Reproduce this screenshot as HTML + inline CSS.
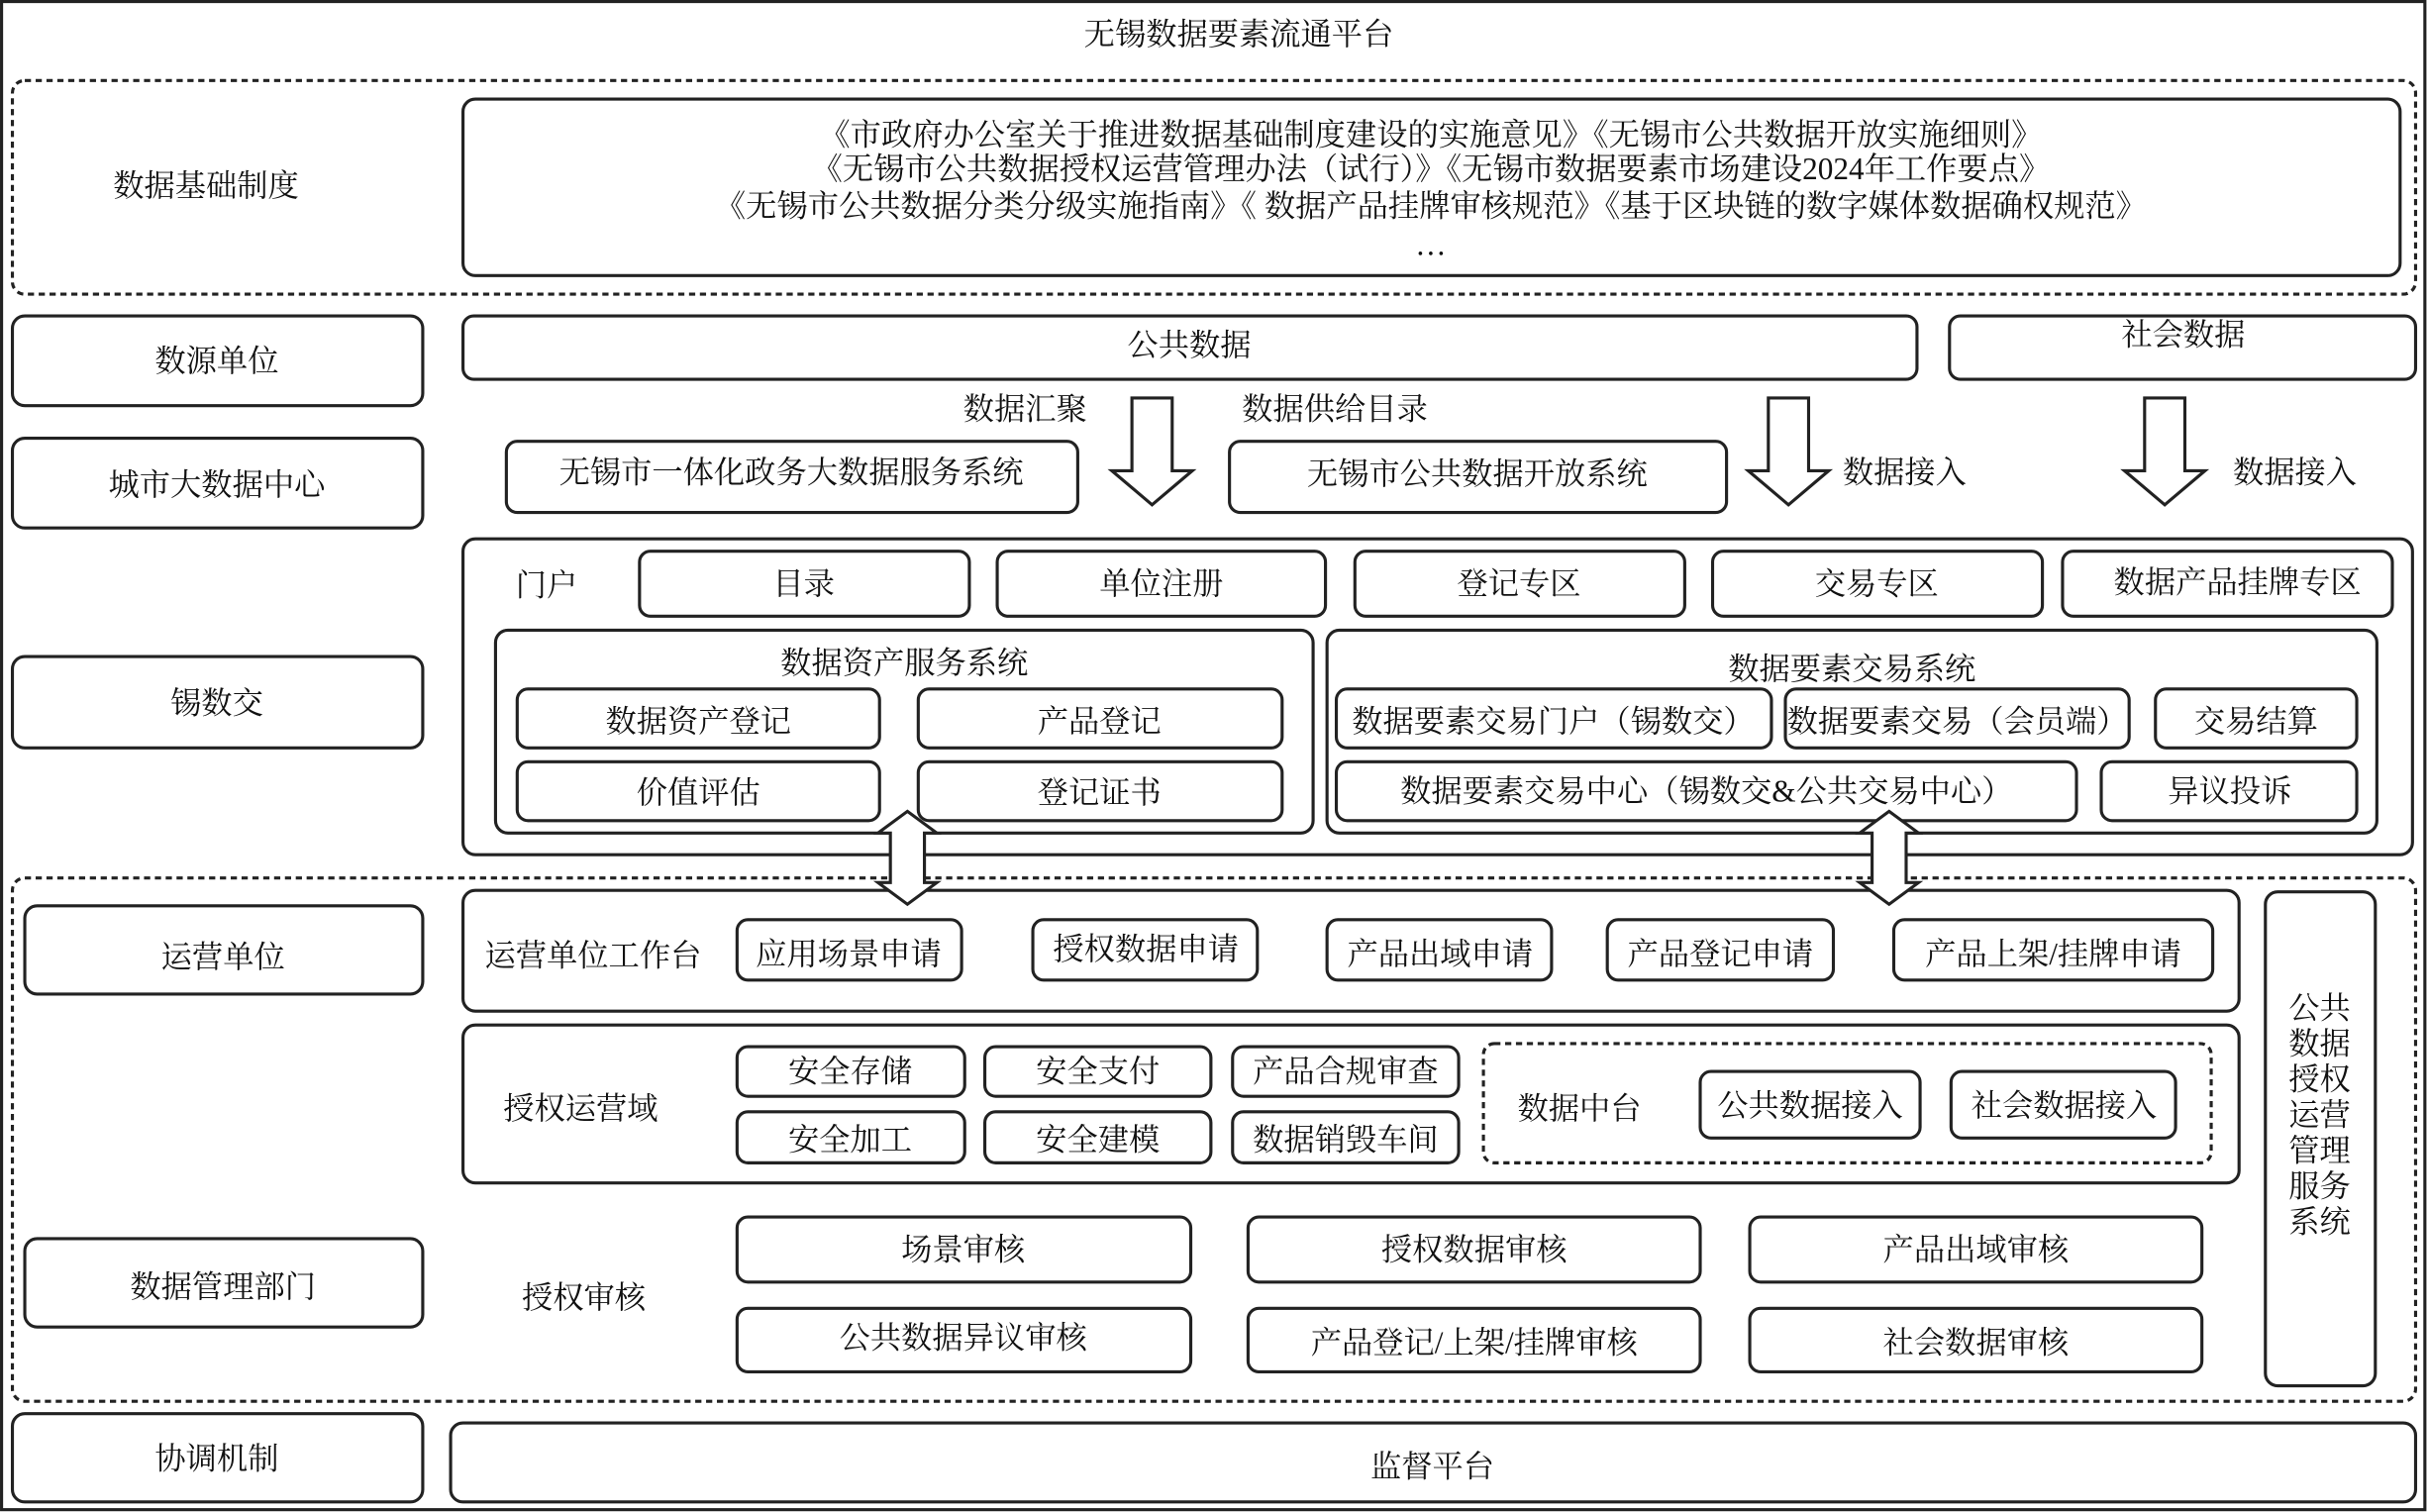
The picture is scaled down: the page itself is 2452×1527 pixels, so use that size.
<!DOCTYPE html>
<html><head><meta charset="utf-8"><style>html,body{margin:0;padding:0;background:#fff}svg{display:block}</style></head><body>
<svg xmlns="http://www.w3.org/2000/svg" width="2452" height="1527" viewBox="0 0 1568 976.5">
<g font-family="'Liberation Serif','Noto Serif CJK SC',serif" font-size="20" fill="#111" text-anchor="middle" dominant-baseline="central">
<rect x="1" y="1" width="1565" height="974" fill="#fff" stroke="#222" stroke-width="2"/>
<text x="800" y="22">无锡数据要素流通平台</text>
<g fill="none" stroke="#222" stroke-width="2">
<rect x="8" y="52" width="1552" height="138" rx="8" stroke-dasharray="4 3"/>
<rect x="8" y="567" width="1552" height="338" rx="8" stroke-dasharray="4 3"/>
<rect x="299" y="64" width="1251" height="114" rx="8"/>
<rect x="8" y="204" width="265" height="58" rx="8"/>
<rect x="8" y="283" width="265" height="58" rx="8"/>
<rect x="8" y="424" width="265" height="59" rx="8"/>
<rect x="16" y="585" width="257" height="57" rx="8"/>
<rect x="16" y="800" width="257" height="57" rx="8"/>
<rect x="8" y="913" width="265" height="57" rx="8"/>
<rect x="299" y="204" width="939" height="41" rx="7"/>
<rect x="1259" y="204" width="301" height="41" rx="7"/>
<rect x="327" y="285" width="369" height="46" rx="7"/>
<rect x="794" y="285" width="321" height="46" rx="7"/>
<rect x="299" y="348" width="1259" height="204" rx="8"/>
<rect x="413" y="356" width="213" height="42" rx="7"/>
<rect x="644" y="356" width="212" height="42" rx="7"/>
<rect x="875" y="356" width="213" height="42" rx="7"/>
<rect x="1106" y="356" width="213" height="42" rx="7"/>
<rect x="1332" y="356" width="213" height="42" rx="7"/>
<rect x="320" y="407" width="528" height="131" rx="8"/>
<rect x="334" y="445" width="234" height="38" rx="7"/>
<rect x="593" y="445" width="235" height="38" rx="7"/>
<rect x="334" y="492" width="234" height="38" rx="7"/>
<rect x="593" y="492" width="235" height="38" rx="7"/>
<rect x="857" y="407" width="678" height="131" rx="8"/>
<rect x="863" y="445" width="281" height="38" rx="7"/>
<rect x="1153" y="445" width="222" height="38" rx="7"/>
<rect x="1392" y="445" width="130" height="38" rx="7"/>
<rect x="863" y="492" width="478" height="38" rx="7"/>
<rect x="1357" y="492" width="165" height="38" rx="7"/>
<rect x="299" y="575" width="1147" height="78" rx="8"/>
<rect x="476" y="594" width="145" height="39" rx="7"/>
<rect x="667" y="594" width="145" height="39" rx="7"/>
<rect x="857" y="594" width="145" height="39" rx="7"/>
<rect x="1038" y="594" width="146" height="39" rx="7"/>
<rect x="1223" y="594" width="206" height="39" rx="7"/>
<rect x="299" y="662" width="1147" height="102" rx="8"/>
<rect x="476" y="676" width="147" height="32" rx="7"/>
<rect x="636" y="676" width="146" height="32" rx="7"/>
<rect x="796" y="676" width="146" height="32" rx="7"/>
<rect x="476" y="718" width="147" height="33" rx="7"/>
<rect x="636" y="718" width="146" height="33" rx="7"/>
<rect x="796" y="718" width="146" height="33" rx="7"/>
<rect x="958" y="674" width="470" height="77" rx="7" stroke-dasharray="4 3"/>
<rect x="1098" y="692" width="142" height="43" rx="7"/>
<rect x="1260" y="692" width="145" height="43" rx="7"/>
<rect x="476" y="786" width="293" height="42" rx="7"/>
<rect x="806" y="786" width="292" height="42" rx="7"/>
<rect x="1130" y="786" width="292" height="42" rx="7"/>
<rect x="476" y="845" width="293" height="41" rx="7"/>
<rect x="806" y="845" width="292" height="41" rx="7"/>
<rect x="1130" y="845" width="292" height="41" rx="7"/>
<rect x="1463" y="576" width="71" height="319" rx="8"/>
<rect x="291" y="919" width="1269" height="51" rx="8"/>
</g>
<g fill="#fff" stroke="#222" stroke-width="2">
<polygon points="731,257 757,257 757,304 770,304 744,326 718,304 731,304"/>
<polygon points="1142,257 1168,257 1168,304 1181,304 1155,326 1129,304 1142,304"/>
<polygon points="1385,257 1411,257 1411,304 1424,304 1398,326 1372,304 1385,304"/>
<polygon points="586,524 605,538 597,538 597,570 605,570 586,584 567,570 575,570 575,538 567,538"/>
<polygon points="1220,524 1239,538 1231,538 1231,570 1239,570 1220,584 1201,570 1209,570 1209,538 1201,538"/>
</g>
<text x="133" y="120">数据基础制度</text>
<text x="924" y="87">《市政府办公室关于推进数据基础制度建设的实施意见》《无锡市公共数据开放实施细则》</text>
<text x="924" y="109">《无锡市公共数据授权运营管理办法（试行）》《无锡市数据要素市场建设2024年工作要点》</text>
<text x="924" y="133">《无锡市公共数据分类分级实施指南》《 数据产品挂牌审核规范》《基于区块链的数字媒体数据确权规范》</text>
<text x="924" y="158">…</text>
<text x="140" y="233">数源单位</text>
<text x="140" y="313">城市大数据中心</text>
<text x="140" y="454">锡数交</text>
<text x="144" y="618">运营单位</text>
<text x="144" y="831">数据管理部门</text>
<text x="140" y="942">协调机制</text>
<text x="768" y="223">公共数据</text>
<text x="1410" y="216">社会数据</text>
<text x="662" y="264">数据汇聚</text>
<text x="862" y="264">数据供给目录</text>
<text x="1230" y="305">数据接入</text>
<text x="1482" y="305">数据接入</text>
<text x="511" y="305">无锡市一体化政务大数据服务系统</text>
<text x="954" y="306">无锡市公共数据开放系统</text>
<text x="353" y="378">门户</text>
<text x="519" y="377">目录</text>
<text x="750" y="377">单位注册</text>
<text x="981" y="377">登记专区</text>
<text x="1212" y="377">交易专区</text>
<text x="1445" y="376">数据产品挂牌专区</text>
<text x="584" y="428">数据资产服务系统</text>
<text x="451" y="466">数据资产登记</text>
<text x="710" y="466">产品登记</text>
<text x="451" y="512">价值评估</text>
<text x="710" y="512">登记证书</text>
<text x="1196" y="432">数据要素交易系统</text>
<text x="1003" y="466">数据要素交易门户（锡数交）</text>
<text x="1264" y="466">数据要素交易（会员端）</text>
<text x="1457" y="466">交易结算</text>
<text x="1102" y="511">数据要素交易中心（锡数交&amp;公共交易中心）</text>
<text x="1440" y="511">异议投诉</text>
<text x="383" y="617">运营单位工作台</text>
<text x="548" y="616">应用场景申请</text>
<text x="740" y="613">授权数据申请</text>
<text x="930" y="616">产品出域申请</text>
<text x="1111" y="616">产品登记申请</text>
<text x="1326" y="616">产品上架/挂牌申请</text>
<text x="375" y="716">授权运营域</text>
<text x="549" y="692">安全存储</text>
<text x="709" y="692">安全支付</text>
<text x="869" y="692">产品合规审查</text>
<text x="549" y="736">安全加工</text>
<text x="709" y="736">安全建模</text>
<text x="869" y="736">数据销毁车间</text>
<text x="1020" y="716">数据中台</text>
<text x="1169" y="714">公共数据接入</text>
<text x="1333" y="714">社会数据接入</text>
<text x="377" y="838">授权审核</text>
<text x="622" y="807">场景审核</text>
<text x="952" y="807">授权数据审核</text>
<text x="1276" y="807">产品出域审核</text>
<text x="622" y="864">公共数据异议审核</text>
<text x="952" y="867">产品登记/上架/挂牌审核</text>
<text x="1276" y="867">社会数据审核</text>
<g font-size="20">
<text x="1498" y="651">公共</text>
<text x="1498" y="674">数据</text>
<text x="1498" y="697">授权</text>
<text x="1498" y="720">运营</text>
<text x="1498" y="743">管理</text>
<text x="1498" y="766">服务</text>
<text x="1498" y="789">系统</text>
</g>
<text x="925" y="947">监督平台</text>
</g>
</svg>
</body></html>
